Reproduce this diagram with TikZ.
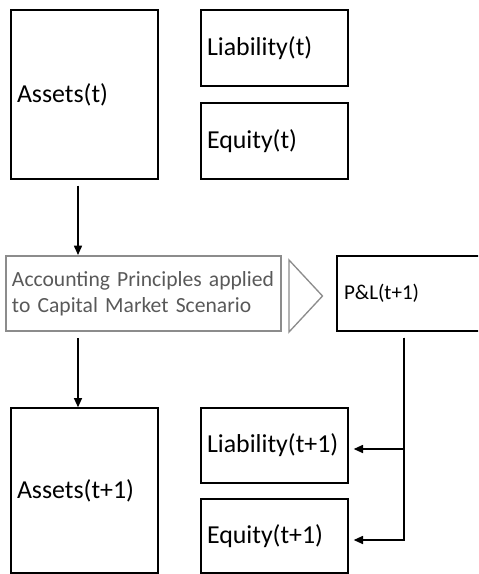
\documentclass[tikz,border=0pt]{standalone}
\usepackage{fontspec}
\setmainfont{Carlito}
\usetikzlibrary{arrows.meta}

\tikzset{every picture/.style={line width=0.75pt}}
\tikzset{
  box/.style={draw, line width=1pt, anchor=center, align=left, inner xsep=4.5pt,
    font=\fontsize{19.4}{23}\selectfont},
  conn/.style={line width=1.2pt, -{Triangle[length=7pt,width=6pt]}},
}

\begin{document}
\begin{tikzpicture}[x=0.75pt,y=0.75pt,yscale=-1,xscale=1]
			\useasboundingbox (0,0) rectangle (478,574);
			\clip (0,0) rectangle (478,574);

			%Shape: Rectangle [id:assetsT]
			\node (assetsT) at (84.5,94.5) [box, text width=101.25pt, minimum width=110.25pt, minimum height=126.75pt] {Assets(t)};
			%Shape: Rectangle [id:liabT]
			\node (liabT) at (274.5,48) [box, text width=101.25pt, minimum width=110.25pt, minimum height=57pt] {Liability(t)};
			%Shape: Rectangle [id:eqT]
			\node (eqT) at (274.5,141) [box, text width=101.25pt, minimum width=110.25pt, minimum height=57pt] {Equity(t)};

			%Shape: Rectangle [id:rules]
			\node (rules) at (143.5,293.5) [box, draw=black!45, line width=1.5pt, text=black!65, text width=197.25pt, minimum width=206.25pt, minimum height=56.25pt, font=\fontsize{16.2}{19.5}\selectfont] {\mbox{Accounting Principles applied}\\\mbox{to Capital Market Scenario}};
			%Shape: Triangle [id:chev]
			\draw [draw=black!45, line width=1pt] (289,260) -- (322.5,296) -- (289,332) -- cycle ;
			%Shape: Rectangle [id:pl]
			\node (pl) at (408.5,293.5) [box, text width=96.75pt, minimum width=107.25pt, minimum height=56.25pt, inner xsep=5.25pt, font=\fontsize{15.8}{19}\selectfont] {P\&L(t+1)};

			%Shape: Rectangle [id:assetsT1]
			\node (assetsT1) at (84.5,490.5) [box, text width=101.25pt, minimum width=110.25pt, minimum height=123.75pt] {Assets(t+1)};
			%Shape: Rectangle [id:liabT1]
			\node (liabT1) at (274.5,445.5) [box, text width=101.25pt, minimum width=110.25pt, minimum height=56.25pt] {Liability(t+1)};
			%Shape: Rectangle [id:eqT1]
			\node (eqT1) at (274.5,536) [box, text width=101.25pt, minimum width=110.25pt, minimum height=55.5pt] {Equity(t+1)};

			% free ends of the connectors
			\coordinate (a1) at ([shift={(-6.5,6)}]assetsT.south);
			\coordinate (a2) at ([shift={(-65.5,6)}]rules.south);
			\coordinate (a3) at ([shift={(-4.5,6)}]pl.south);

			%Straight Lines [id:a1]
			\draw [conn] (a1) -- (a1 |- rules.north);
			%Straight Lines [id:a2]
			\draw [conn] (a2) -- (a2 |- assetsT1.north);
			%Straight Lines [id:a3]
			\draw [conn] (a3) |- ([shift={(5,3.5)}]liabT1.east);
			%Straight Lines [id:a4]
			\draw [conn] (a3) |- ([shift={(5,4)}]eqT1.east);

		\end{tikzpicture}
\end{document}
